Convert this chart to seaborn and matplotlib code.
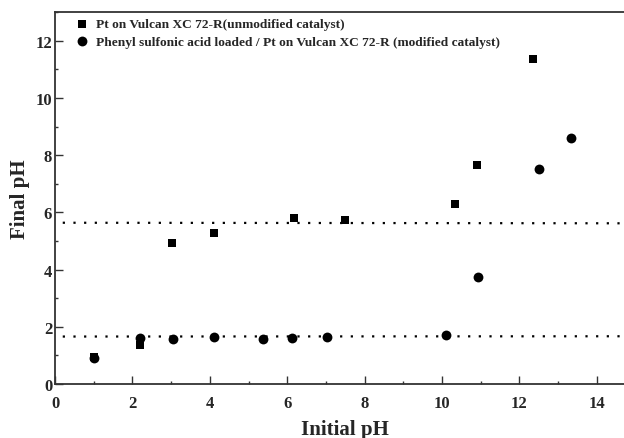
import matplotlib
matplotlib.use("Agg")
import matplotlib.pyplot as plt
import seaborn as sns
import pandas as pd
from matplotlib.ticker import MultipleLocator

# ---- data ----
unmod_x = [1.02, 2.20, 3.03, 4.11, 6.18, 7.49, 10.34, 10.91, 12.34]
unmod_y = [0.95, 1.36, 4.93, 5.28, 5.79, 5.73, 6.28, 7.67, 11.36]
mod_x = [1.02, 2.20, 3.05, 4.12, 5.37, 6.12, 7.04, 10.10, 10.94, 12.51, 13.33]
mod_y = [0.92, 1.60, 1.57, 1.64, 1.57, 1.60, 1.65, 1.71, 3.73, 7.53, 8.60]
upper_ref_x = [0.2, 15.0]
upper_ref_y = [5.64, 5.62]
lower_ref_x = [0.2, 15.0]
lower_ref_y = [1.66, 1.67]
label_unmod = "Pt on Vulcan XC 72-R(unmodified catalyst)"
label_mod = "Phenyl sulfonic acid loaded / Pt on Vulcan XC 72-R (modified catalyst)"

sns.set_theme(style="ticks")
plt.rcParams["font.family"] = ["Liberation Serif", "DejaVu Serif"]
plt.rcParams["font.weight"] = "bold"

fig = plt.figure(figsize=(6.24, 4.39), dpi=100)
ax = fig.add_axes([55 / 624, (439 - 385) / 439, 15 * 38.7 / 624, (385 - 13.3) / 439])

df_u = pd.DataFrame({"x": unmod_x, "y": unmod_y})
df_m = pd.DataFrame({"x": mod_x, "y": mod_y})

ax.plot(upper_ref_x, upper_ref_y, linestyle=(0, (1, 3.8)), color="black", linewidth=1.6)
ax.plot(lower_ref_x, lower_ref_y, linestyle=(0, (1, 3.8)), color="black", linewidth=1.6)

sns.scatterplot(data=df_u, x="x", y="y", marker="s", s=38, color="black",
                edgecolor="black", linewidth=0, ax=ax, label=label_unmod, zorder=3)
sns.scatterplot(data=df_m, x="x", y="y", marker="o", s=50, color="black",
                edgecolor="black", linewidth=0, ax=ax, label=label_mod, zorder=3)

ax.set_xlim(0, 15)
ax.set_ylim(0, 13)
ax.xaxis.set_major_locator(MultipleLocator(2))
ax.xaxis.set_minor_locator(MultipleLocator(1))
ax.yaxis.set_major_locator(MultipleLocator(2))
ax.yaxis.set_minor_locator(MultipleLocator(1))
ax.tick_params(which="major", direction="in", length=5.5, width=1.0, labelsize=12,
               color="#333333", top=False, right=False)
ax.tick_params(which="minor", direction="in", length=2.5, width=1.0, color="#333333",
               top=False, right=False)
for lab in ax.get_xticklabels() + ax.get_yticklabels():
    lab.set_fontweight("bold")
ax.tick_params(axis="x", pad=8)
ax.tick_params(axis="y", pad=2)

for side in ["left", "bottom", "top"]:
    ax.spines[side].set_linewidth(1.3)
    ax.spines[side].set_color("#333333")
ax.spines["right"].set_visible(False)

ax.set_xlabel("Initial pH", fontsize=15, fontweight="bold", labelpad=6)
ax.set_ylabel("Final pH", fontsize=15, fontweight="bold", labelpad=4)

leg = ax.legend(loc="upper left", bbox_to_anchor=(0.036, 0.985), frameon=False,
                fontsize=9.6, handlelength=0.9, handletextpad=0.6, labelspacing=0.4,
                borderaxespad=0, borderpad=0)
for t in leg.get_texts():
    t.set_fontweight("bold")

fig.savefig("out.png", dpi=100)
